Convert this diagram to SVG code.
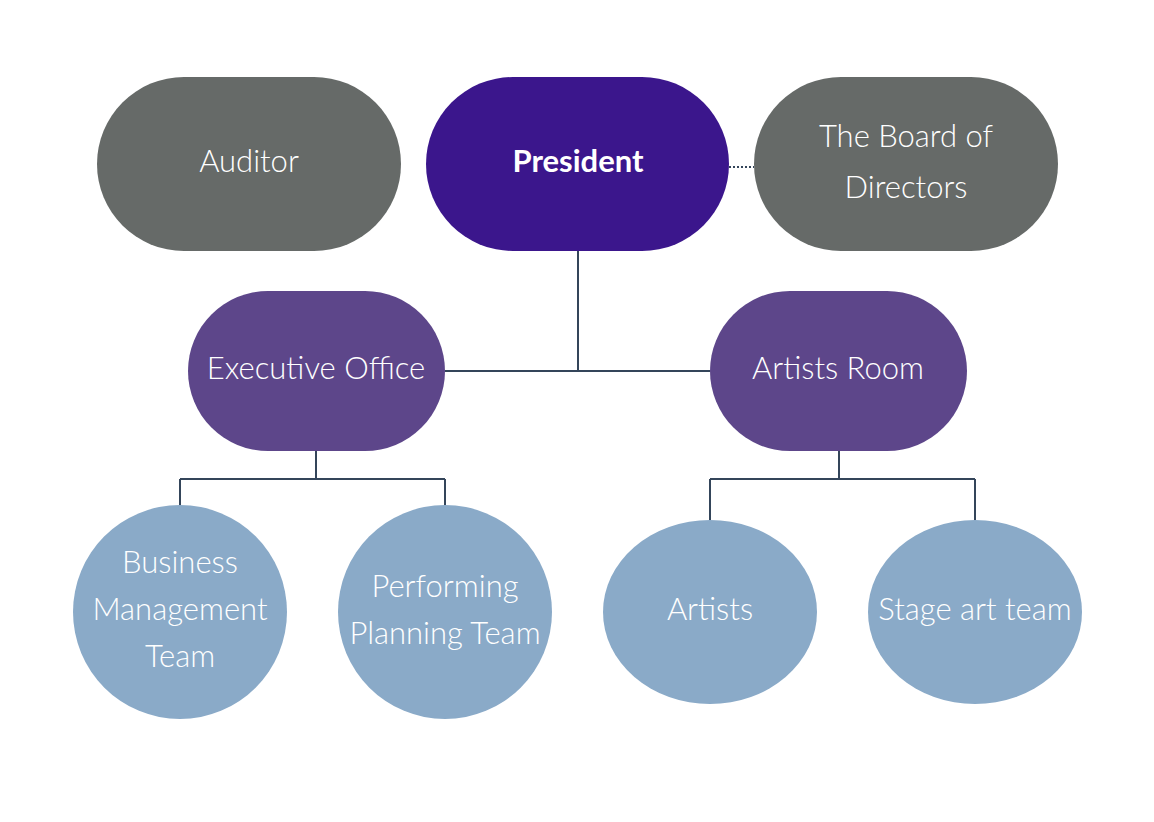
<svg xmlns="http://www.w3.org/2000/svg" width="1154" height="822" viewBox="0 0 1154 822">
<style>
.g{fill:#666a68}.p{fill:#3b168c}.m{fill:#5d468a}.c{fill:#8aaac8}
text{font-family:Lato,"Open Sans",sans-serif;font-weight:300;font-size:31px;fill:#fff;text-anchor:middle}
.ln{stroke:#34455a;stroke-width:2;fill:none}
</style>
<rect width="1154" height="822" fill="#fff"/>
<g id="connectors">
<path class="ln" d="M578 251V371M445 371H710M316 451V479M180 479H445M180 479V506M445 479V506M839 451V479M710 479H975M710 479V520M975 479V520"/>
<path class="ln" d="M729 167H754" stroke-dasharray="2 2"/>
</g>
<g id="auditor"><rect class="g" x="97" y="77" width="304" height="174" rx="87"/><text x="249" y="172">Auditor</text></g>
<g id="president"><rect class="p" x="426" y="77" width="303" height="174" rx="87"/><text x="578" y="172" style="font-weight:700">President</text></g>
<g id="board"><rect class="g" x="754" y="77" width="304" height="174" rx="87"/><text x="906" y="147">The Board of</text><text x="906" y="198">Directors</text></g>
<g id="exec"><rect class="m" x="188" y="291" width="257" height="160" rx="80"/><text x="316" y="379">Executive Office</text></g>
<g id="artistsroom"><rect class="m" x="710" y="291" width="257" height="160" rx="80"/><text x="838" y="379">Artists Room</text></g>
<g id="business"><circle class="c" cx="180" cy="612" r="107"/><text x="180" y="573">Business</text><text x="180" y="620">Management</text><text x="180" y="667">Team</text></g>
<g id="performing"><circle class="c" cx="445" cy="612" r="107"/><text x="445" y="597">Performing</text><text x="445" y="644">Planning Team</text></g>
<g id="artists"><ellipse class="c" cx="710" cy="612" rx="107" ry="92"/><text x="710" y="620">Artists</text></g>
<g id="stage"><ellipse class="c" cx="975" cy="612" rx="107" ry="92"/><text x="975" y="620">Stage art team</text></g>
</svg>
